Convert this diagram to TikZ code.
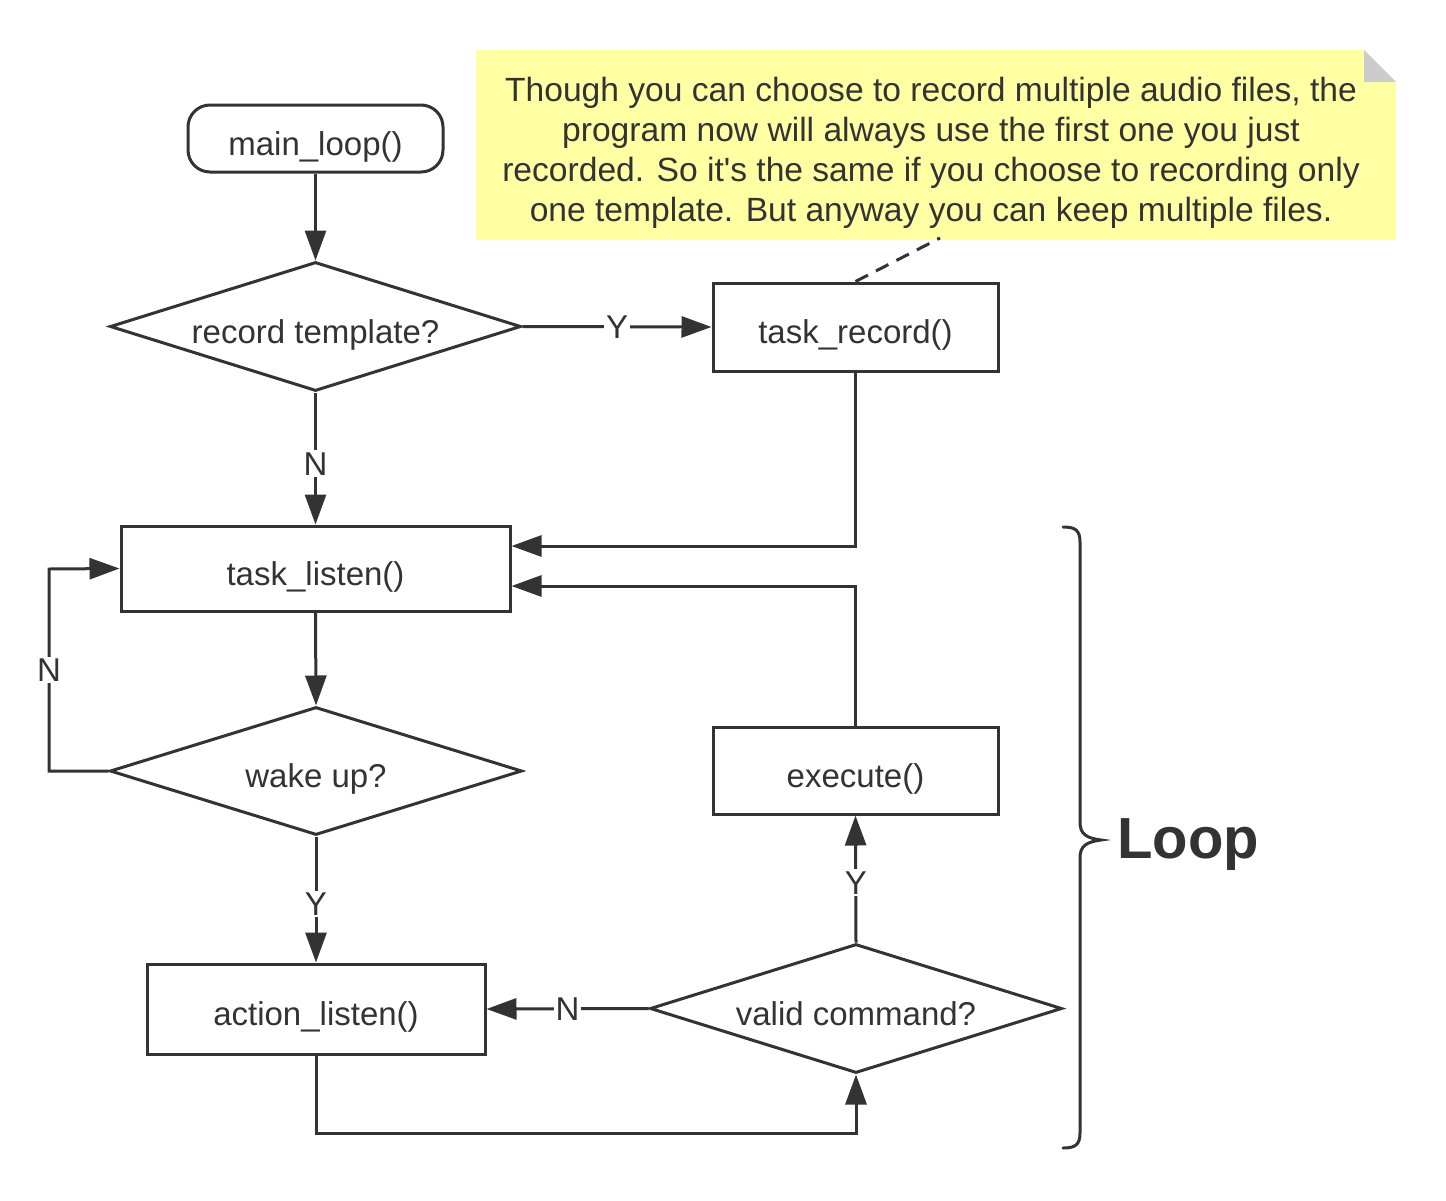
\documentclass[tikz,border=0pt]{standalone}
\usepackage{fontspec}
\setmainfont{Liberation Sans}
\usetikzlibrary{arrows.meta,shapes.geometric,calc}
\definecolor{ink}{HTML}{333333}
\definecolor{notefill}{HTML}{FFFFA3}
\definecolor{foldgray}{HTML}{CCCCCC}
\begin{document}
\begin{tikzpicture}[x=1pt,y=-1pt,
  every node/.style={font=\fontsize{33}{40}\selectfont, text=ink},
  conn/.style={draw=ink, line width=3pt, -{Triangle[length=30pt,width=21pt]}},
  plainline/.style={draw=ink, line width=3pt},
  lowtext/.style={text height=33pt, text depth=0pt},
  procbox/.style={draw=ink, line width=3pt, rectangle, inner sep=0pt, lowtext},
  startbox/.style={draw=ink, line width=3pt, rectangle, rounded corners=22pt, inner sep=0pt, lowtext},
  decision/.style={draw=ink, line width=3pt, diamond, aspect=3.2, inner sep=0pt, lowtext},
  lbl/.style={fill=white, inner sep=2pt}]
\useasboundingbox (0,0) rectangle (1446,1200);
\fill[white] (0,0) rectangle (1446,1200);

% note
\fill[notefill] (476,50) -- (1364,50) -- (1396,82) -- (1396,240) -- (476,240) -- cycle;
\fill[foldgray] (1364,50) -- (1396,82) -- (1364,82) -- cycle;
\node[align=center, font=\fontsize{33.6}{40}\selectfont] (note) at (931,153) {Though you can choose to record multiple audio files, the\\program now will always use the first one you just\\recorded. So it\textquotesingle s the same if you choose to recording only\\one template. But anyway you can keep multiple files.};
\coordinate (notept) at (940,238);

% nodes
\node[startbox, minimum width=255pt, minimum height=67pt] (main) at (315.5,138.5) {main\_loop()};
\node[decision, minimum width=411pt, minimum height=129pt] (rec) at (315.5,326.5) {record template?};
\node[procbox, minimum width=285pt, minimum height=88pt] (trec) at (855.5,327) {task\_record()};
\node[procbox, minimum width=389pt, minimum height=85pt] (tlis) at (315.5,568.5) {task\_listen()};
\node[decision, minimum width=412pt, minimum height=128pt] (wake) at (316,771) {wake up?};
\node[procbox, minimum width=285pt, minimum height=87pt] (exec) at (855.5,770.5) {execute()};
\node[procbox, minimum width=338pt, minimum height=90pt] (alis) at (316,1009) {action\_listen()};
\node[decision, minimum width=412pt, minimum height=129pt] (valid) at (856,1008.5) {valid command?};

% connectors
\draw[conn] (main) -- (rec);
\draw[conn] (rec.east) -- node[lbl, pos=0.5]{Y} (trec.west);
\draw[conn] (rec.south) -- node[lbl, pos=0.54]{N} (tlis.north);
\draw[conn] (trec.south) |- ($(tlis.east)+(0,-22.5)$);
\draw[conn] (exec.north) |- ($(tlis.east)+(0,17.5)$);
\draw[conn] (tlis.south) -- (wake.north);
\draw[conn] (wake.west) -- (49,771) -- node[lbl, pos=0.5]{N} (49,569) -- (tlis.west);
\draw[conn] (wake.south) -- node[lbl, pos=0.535]{Y} (alis.north);
\draw[conn] (valid.west) -- node[lbl, pos=0.5]{N} (alis.east);
\draw[conn] (valid.north) -- node[lbl, pos=0.47]{Y} (exec.south);
\draw[conn] (alis.south) -- (316,1133) -| (valid.south);
\draw[plainline, dashed, dash pattern=on 14pt off 9pt] (trec.north) -- (notept);

% brace
\draw[ink, line width=3pt, line cap=round]
  (1063,527) .. controls (1075,527) and (1080,530) .. (1080,542)
  -- (1080,822) .. controls (1080,834) and (1086,838) .. (1101,840)
  .. controls (1086,842) and (1080,846) .. (1080,858)
  -- (1080,1133) .. controls (1080,1145) and (1075,1148) .. (1063,1148);
\node[font=\fontsize{58}{66}\selectfont\bfseries, anchor=west, inner sep=0pt] (loop) at (1117,845) {Loop};
\end{tikzpicture}
\end{document}
